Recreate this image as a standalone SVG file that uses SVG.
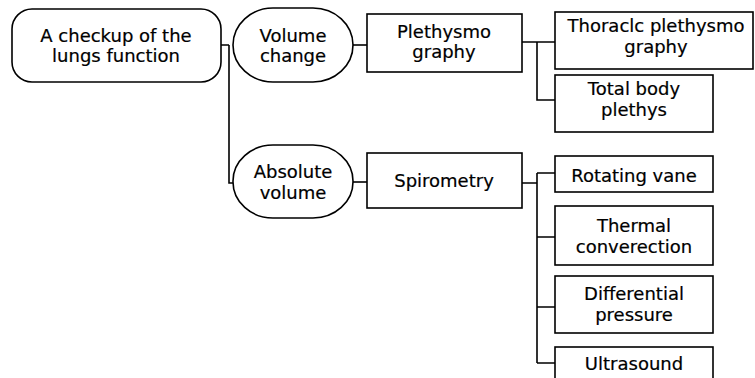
<svg xmlns="http://www.w3.org/2000/svg" width="755" height="378" viewBox="0 0 755 378">
  <style>
    .box { fill: #fff; stroke: #000; stroke-width: 1.6; }
    .wire { fill: none; stroke: #000; stroke-width: 1.6; }
    text { font-family: "DejaVu Sans", "Liberation Sans", sans-serif; font-size: 18px; fill: #000; stroke: #000; stroke-width: 0.2; text-anchor: middle; }
  </style>
  <rect width="755" height="378" fill="#fff"/>

  <!-- connectors -->
  <g id="connectors" class="wire">
    <path d="M221 45 H229 M229 45 V183 H233"/>
    <path d="M353 45 H367"/>
    <path d="M521 42 H555 M537 42 V100 H555"/>
    <path d="M353 182 H367"/>
    <path d="M522 183 H537 M537 173 V363 M537 173 H555 M537 237 H555 M537 307 H555 M537 363 H555"/>
  </g>

  <g id="root">
    <rect class="box" x="12" y="9" width="209" height="73" rx="20"/>
    <text x="116" y="42">A checkup of the</text>
    <text x="116" y="62">lungs function</text>
  </g>

  <g id="volume-change">
    <rect class="box" x="233" y="8" width="120" height="74" rx="40" ry="37"/>
    <text x="293" y="42">Volume</text>
    <text x="293" y="62">change</text>
  </g>

  <g id="absolute-volume">
    <rect class="box" x="233" y="145" width="120" height="73" rx="40" ry="36"/>
    <text x="293" y="178">Absolute</text>
    <text x="293" y="199">volume</text>
  </g>

  <g id="plethysmography">
    <rect class="box" x="367" y="14" width="155" height="58"/>
    <text x="444" y="38">Plethysmo</text>
    <text x="444" y="58">graphy</text>
  </g>

  <g id="spirometry">
    <rect class="box" x="367" y="153" width="155" height="55"/>
    <text x="444" y="187">Spirometry</text>
  </g>

  <g id="thoracic">
    <rect class="box" x="555" y="12" width="198" height="57"/>
    <text x="656" y="32">Thoraclc plethysmo</text>
    <text x="656" y="53">graphy</text>
  </g>

  <g id="total-body">
    <rect class="box" x="555" y="75" width="158" height="57"/>
    <text x="634" y="95">Total body</text>
    <text x="634" y="116">plethys</text>
  </g>

  <g id="rotating-vane">
    <rect class="box" x="555" y="156" width="158" height="36"/>
    <text x="634" y="182">Rotating vane</text>
  </g>

  <g id="thermal">
    <rect class="box" x="555" y="206" width="158" height="59"/>
    <text x="634" y="232">Thermal</text>
    <text x="634" y="253">converection</text>
  </g>

  <g id="differential">
    <rect class="box" x="555" y="276" width="158" height="57"/>
    <text x="634" y="300">Differential</text>
    <text x="634" y="321">pressure</text>
  </g>

  <g id="ultrasound">
    <rect class="box" x="555" y="347" width="158" height="40"/>
    <text x="634" y="370">Ultrasound</text>
  </g>
</svg>
